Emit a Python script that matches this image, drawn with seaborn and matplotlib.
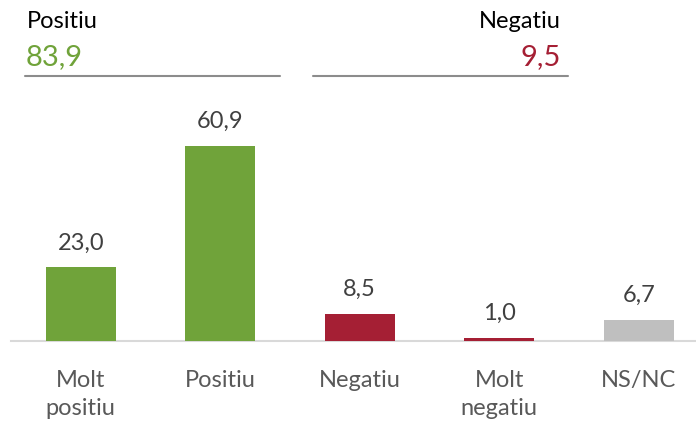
import matplotlib
matplotlib.use('Agg')
import matplotlib.pyplot as plt
import seaborn as sns
import pandas as pd

categories = ['Molt\npositiu', 'Positiu', 'Negatiu', 'Molt\nnegatiu', 'NS/NC']
values = [23.0, 60.9, 8.5, 1.0, 6.7]
bar_colors = ['#70A33A', '#70A33A', '#A51F34', '#A51F34', '#BFBFBF']
summary_labels = ['Positiu', 'Negatiu']
summary_values = [83.9, 9.5]
summary_colors = ['#70A33A', '#A51F34']

sns.set_style('white')
plt.rcParams['font.family'] = ['Lato', 'DejaVu Sans']

df = pd.DataFrame({'cat': categories, 'val': values})

fig = plt.figure(figsize=(6.96, 4.21), dpi=100)
ax = fig.add_axes([11 / 696, 80 / 421, 697.5 / 696, 241 / 421])
sns.barplot(data=df, x='cat', y='val', hue='cat', palette=bar_colors,
            width=0.5, legend=False, ax=ax, saturation=1)
for p in ax.patches:
    p.set_zorder(3)
    p.set_edgecolor('none')
ax.set_xlim(-0.5, 4.5)
ax.set_ylim(0, 241 / 3.2)
ax.set_xlabel('')
ax.set_ylabel('')
ax.set_yticks([])
for s in ['top', 'left', 'right']:
    ax.spines[s].set_visible(False)
ax.spines['bottom'].set_color('#D9D9D9')
ax.spines['bottom'].set_linewidth(1.5)
ax.spines['bottom'].set_zorder(1)
ax.tick_params(axis='x', length=0, pad=21, labelsize=17, labelcolor='#595959')
for lbl in ax.get_xticklabels():
    lbl.set_linespacing(1.4)
    lbl.set_verticalalignment('top')

for i, v in enumerate(values):
    ax.annotate(f'{v:.1f}'.replace('.', ','), (i, v), xytext=(0, 10),
                textcoords='offset points', ha='center', va='bottom',
                fontsize=17, color='#404040')

# summary headers
fig.text(27 / 696, 1 - 21 / 421, summary_labels[0], fontsize=17, color='black', va='center', ha='left')
fig.text(26 / 696, 1 - 57 / 421, f'{summary_values[0]:.1f}'.replace('.', ','), fontsize=21,
         color=summary_colors[0], va='center', ha='left')
fig.text(561 / 696, 1 - 21 / 421, summary_labels[1], fontsize=17, color='black', va='center', ha='right')
fig.text(561 / 696, 1 - 57 / 421, f'{summary_values[1]:.1f}'.replace('.', ','), fontsize=21,
         color=summary_colors[1], va='center', ha='right')
fig.add_artist(plt.Line2D([25 / 696, 280 / 696], [1 - 76 / 421] * 2, color='#8C8C8C', lw=1.5))
fig.add_artist(plt.Line2D([313 / 696, 568 / 696], [1 - 76 / 421] * 2, color='#8C8C8C', lw=1.5))

fig.savefig('out.png', dpi=100)
